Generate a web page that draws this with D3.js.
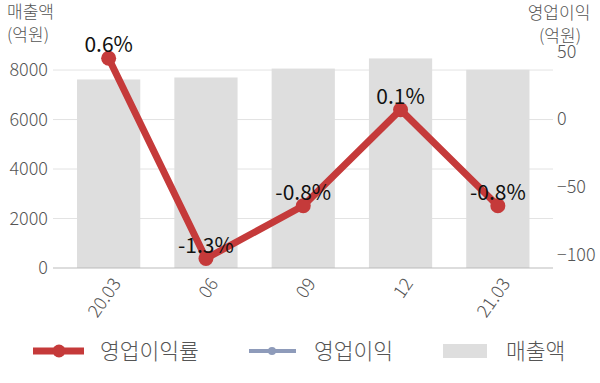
<!DOCTYPE html>
<html>
<head>
<meta charset="utf-8">
<script src="https://cdn.jsdelivr.net/npm/d3@7"></script>
<style>
  body { margin: 0; background: #fff; }
  text { font-family: "Noto Sans CJK KR", "Noto Sans", sans-serif; }
  .light { font-weight: 300; }
</style>
</head>
<body>
<div id="chart"></div>
<script>
// 분기별 실적
const periods = ['20.03', '06', '09', '12', '21.03'];
const sales = [7620, 7700, 8060, 8470, 8010];       // 매출액 (억원)
const opProfit = [45, -103, -64, 7, -64];           // 영업이익 (억원)
const opMargin = [0.6, -1.3, -0.8, 0.1, -0.8];      // 영업이익률 (%)
const leftTicks = [0, 2000, 4000, 6000, 8000];
const rightTicks = [-100, -50, 0, 50];

const width = 600, height = 383;
const plot = {left: 53, right: 553, top: 51.5, bottom: 268};
const red = '#c53a3a', blue = '#8e9bba', barColor = '#dedede', textColor = '#555';

const svg = d3.select('#chart').append('svg')
    .attr('width', width)
    .attr('height', height);

const x = d3.scaleBand()
    .domain(periods)
    .range([60, 546.5])
    .paddingInner(0.35)
    .paddingOuter(0.175);

const yLeft = d3.scaleLinear().domain([0, 8750]).range([plot.bottom, plot.top]);
const yRight = d3.scaleLinear().domain([-110, 50]).range([plot.bottom, plot.top]);

// gridlines
svg.append('g').selectAll('line')
    .data(leftTicks.filter(d => d > 0))
  .join('line')
    .attr('x1', plot.left).attr('x2', plot.right)
    .attr('y1', d => yLeft(d)).attr('y2', d => yLeft(d))
    .attr('stroke', '#e3e3e3');

// bars
svg.append('g').selectAll('rect')
    .data(periods)
  .join('rect')
    .attr('x', d => x(d))
    .attr('width', x.bandwidth())
    .attr('y', (d, i) => yLeft(sales[i]))
    .attr('height', (d, i) => yLeft(0) - yLeft(sales[i]))
    .attr('fill', barColor);

// baseline
svg.append('line')
    .attr('x1', plot.left).attr('x2', plot.right)
    .attr('y1', plot.bottom).attr('y2', plot.bottom)
    .attr('stroke', '#bbb');

// left axis
const leftAxis = svg.append('g')
    .attr('transform', `translate(${plot.left},0)`)
    .call(d3.axisLeft(yLeft).tickValues(leftTicks).tickSize(0).tickPadding(5).tickFormat(d3.format('d')));
leftAxis.select('.domain').remove();
leftAxis.selectAll('text').attr('font-size', 18).attr('fill', textColor).attr('class', 'light')
    .style('font-family', '"Noto Sans CJK KR", sans-serif');

// right axis
const rightAxis = svg.append('g')
    .attr('transform', `translate(${plot.right},0)`)
    .call(d3.axisRight(yRight).tickValues(rightTicks).tickSize(0).tickPadding(4));
rightAxis.select('.domain').remove();
rightAxis.selectAll('text').attr('font-size', 18).attr('fill', textColor).attr('class', 'light')
    .style('font-family', '"Noto Sans CJK KR", sans-serif');

// x labels
svg.append('g').selectAll('text')
    .data(periods)
  .join('text')
    .attr('class', 'light')
    .attr('transform', d => `translate(${x(d) + x.bandwidth() / 2 + 8},${plot.bottom + 12}) rotate(-55)`)
    .attr('text-anchor', 'end')
    .attr('dy', '0.35em')
    .attr('font-size', 18)
    .attr('fill', textColor)
    .text(d => d);

// axis titles
const titles = svg.append('g').attr('class', 'light').attr('font-size', 17).attr('fill', textColor);
titles.append('text').attr('x', 7).attr('y', 18).text('매출액');
titles.append('text').attr('x', 7).attr('y', 40.5).text('(억원)');
titles.append('text').attr('x', 559).attr('y', 19).attr('text-anchor', 'middle').text('영업이익');
titles.append('text').attr('x', 560).attr('y', 42).attr('text-anchor', 'middle').text('(억원)');

const cx = d => x(d) + x.bandwidth() / 2;

// 영업이익 line (underneath)
const profitLine = d3.line()
    .x(d => cx(d))
    .y((d, i) => yRight(opProfit[i]));
svg.append('path')
    .datum(periods)
    .attr('d', profitLine)
    .attr('fill', 'none')
    .attr('stroke', blue)
    .attr('stroke-width', 3);

// 영업이익률 line
svg.append('path')
    .datum(periods)
    .attr('d', profitLine)
    .attr('fill', 'none')
    .attr('stroke', red)
    .attr('stroke-width', 7)
    .attr('stroke-linejoin', 'round');

svg.append('g').selectAll('circle')
    .data(periods)
  .join('circle')
    .attr('cx', d => cx(d))
    .attr('cy', (d, i) => yRight(opProfit[i]))
    .attr('r', 7.5)
    .attr('fill', red);

// margin labels
svg.append('g').selectAll('text')
    .data(periods)
  .join('text')
    .attr('x', d => cx(d))
    .attr('y', (d, i) => yRight(opProfit[i]) - 6)
    .attr('text-anchor', 'middle')
    .attr('font-size', 21)
    .attr('fill', '#111')
    .text((d, i) => opMargin[i] + '%');

// legend
const legend = svg.append('g');
legend.append('line').attr('x1', 33).attr('x2', 84).attr('y1', 351).attr('y2', 351)
    .attr('stroke', red).attr('stroke-width', 7);
legend.append('circle').attr('cx', 59).attr('cy', 351).attr('r', 6.5).attr('fill', red);
legend.append('text').attr('class', 'light').attr('x', 100).attr('y', 351).attr('dy', '0.35em')
    .attr('font-size', 21.5).attr('fill', textColor).text('영업이익률');

legend.append('line').attr('x1', 249).attr('x2', 296).attr('y1', 351).attr('y2', 351)
    .attr('stroke', blue).attr('stroke-width', 4);
legend.append('circle').attr('cx', 272).attr('cy', 351).attr('r', 4).attr('fill', blue);
legend.append('text').attr('class', 'light').attr('x', 314).attr('y', 351).attr('dy', '0.35em')
    .attr('font-size', 21.5).attr('fill', textColor).text('영업이익');

legend.append('rect').attr('x', 443).attr('y', 344).attr('width', 44).attr('height', 14)
    .attr('fill', barColor);
legend.append('text').attr('class', 'light').attr('x', 506).attr('y', 351).attr('dy', '0.35em')
    .attr('font-size', 21.5).attr('fill', textColor).text('매출액');
</script>
</body>
</html>
